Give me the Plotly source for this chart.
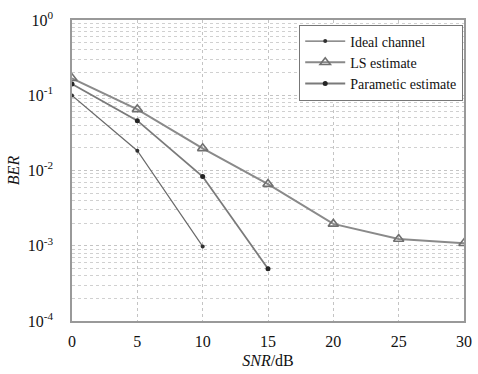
import plotly.graph_objects as go

snr = [0, 5, 10, 15, 20, 25, 30]
ideal = [0.099, 0.0183, 0.00098]
ls_est = [0.168, 0.065, 0.0197, 0.0066, 0.00195, 0.00123, 0.00108]
param = [0.141, 0.046, 0.0083, 0.000495]

yticks = [1, 0.1, 0.01, 0.001, 0.0001]
ytext = ["10<sup>0</sup>", "10<sup>-1</sup>", "10<sup>-2</sup>", "10<sup>-3</sup>", "10<sup>-4</sup>"]
xticks = [0, 5, 10, 15, 20, 25, 30]

FONT = "Liberation Serif"

fig = go.Figure()
fig.add_trace(go.Scatter(x=snr[:len(ideal)], y=ideal, name="Ideal channel", mode="lines+markers",
                         line=dict(color="#6a6a6a", width=1.2),
                         marker=dict(symbol="circle", size=4, color="#303030")))
fig.add_trace(go.Scatter(x=snr[:len(ls_est)], y=ls_est, name="LS estimate", mode="lines+markers",
                         line=dict(color="#8a8a8a", width=2),
                         marker=dict(symbol="triangle-up-open", size=9, color="#707070", line=dict(width=1.6))))
fig.add_trace(go.Scatter(x=snr[:len(param)], y=param, name="Parametic estimate", mode="lines+markers",
                         line=dict(color="#7a7a7a", width=1.8),
                         marker=dict(symbol="circle", size=5, color="#252525")))

fig.update_layout(
    width=478, height=374,
    margin=dict(l=72, r=14, t=20, b=53),
    paper_bgcolor="white", plot_bgcolor="white",
    font=dict(family=FONT, size=16, color="#111"),
    showlegend=True,
    legend=dict(x=0.998, y=0.985, xanchor="right", yanchor="top",
                bgcolor="white", bordercolor="#777", borderwidth=1,
                font=dict(family=FONT, size=14), tracegroupgap=0, itemwidth=40),
    xaxis=dict(range=[0, 30], tickvals=xticks, showgrid=True, gridcolor="#c4c4c4", griddash="dot",
               gridwidth=1, showline=True, linecolor="#999", linewidth=1.5, mirror=True,
               ticks="", zeroline=False, ticklabelstandoff=5, automargin=False,
               ticklabeloverflow="allow",
               title=dict(text="<i>SNR</i>/dB", standoff=6, font=dict(family=FONT, size=16))),
    yaxis=dict(type="log", range=[-4, 0], tickvals=yticks, ticktext=ytext,
               showgrid=True, gridcolor="#c4c4c4", griddash="dot", gridwidth=1,
               showline=True, linecolor="#999", linewidth=1.5, mirror=True, ticks="",
               zeroline=False, ticklabelstandoff=14, automargin=False,
               minor=dict(showgrid=True, gridcolor="#d0d0d0", griddash="dot", gridwidth=1, dtick="D1"),
               title=dict(text="<i>BER</i>", standoff=4, font=dict(family=FONT, size=16))),
)

fig.write_html("out.html", config={"displayModeBar": False},
               post_script="document.body.style.margin='0';document.body.style.overflow='hidden';")
